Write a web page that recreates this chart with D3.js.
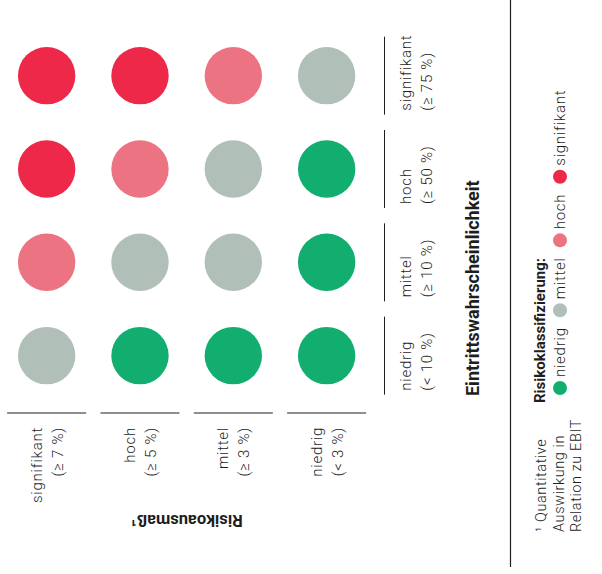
<!DOCTYPE html>
<html><head><meta charset="utf-8">
<script src="https://cdn.jsdelivr.net/npm/d3@7"></script>
<style>
html,body{margin:0;padding:0;background:#fff;}
svg{display:block;font-family:Roboto,"Noto Sans",sans-serif;}
</style></head>
<body>
<svg id="chart" width="602" height="574"></svg>
<script>
// Data
const ausmass = ["signifikant", "hoch", "mittel", "niedrig"];
const ausmassRange = ["(≥ 7 %)", "(≥ 5 %)", "(≥ 3 %)", "(< 3 %)"];
const wahrsch = ["signifikant", "hoch", "mittel", "niedrig"];
const wahrschRange = ["(≥ 75 %)", "(≥ 50 %)", "(≥ 10 %)", "(< 10 %)"];
const klassen = ["niedrig", "mittel", "hoch", "signifikant"];
const klassenColors = ["#11ae70", "#b0c0b8", "#ec7482", "#ee2849"];
// rows: Eintrittswahrscheinlichkeit (wahrsch), cols: Risikoausmaß (ausmass)
const matrix = [
  ["signifikant", "signifikant", "hoch", "mittel"],
  ["signifikant", "hoch", "mittel", "niedrig"],
  ["hoch", "mittel", "mittel", "niedrig"],
  ["mittel", "niedrig", "niedrig", "niedrig"]
];

const svg = d3.select("#chart");
const ink = "#1e1e1e";
const x = d3.scaleBand().domain(ausmass).range([0, 373.3]);
const y = d3.scaleBand().domain(wahrsch).range([29, 402.3]);
const color = d3.scaleOrdinal().domain(klassen).range(klassenColors);
const r = 28.7;

const cells = [];
matrix.forEach((row, i) => row.forEach((k, j) => cells.push({w: wahrsch[i], a: ausmass[j], k})));

svg.append("g").selectAll("circle").data(cells).join("circle")
  .attr("cx", d => x(d.a) + x.bandwidth() / 2)
  .attr("cy", d => y(d.w) + y.bandwidth() / 2)
  .attr("r", r)
  .attr("fill", d => color(d.k));

const lab = (sel) => sel.attr("font-size", 15).attr("font-weight", 300)
  .attr("letter-spacing", 0.75).attr("fill", ink);

// bottom axis (Risikoausmaß)
const bx = ausmass.map((a, i) => ({a, rng: ausmassRange[i], c: x(a) + x.bandwidth() / 2}));
const bottom = svg.append("g");
bottom.selectAll("line").data(bx).join("line")
  .attr("x1", d => d.c - 39.5).attr("x2", d => d.c + 39.5)
  .attr("y1", 413).attr("y2", 413)
  .attr("stroke", ink).attr("stroke-width", 1);
const bl = bottom.selectAll("g.lab").data(bx).join("g").attr("class", "lab");
bl.append("text")
  .attr("transform", d => `translate(${d.c - 5},427) rotate(-90)`)
  .attr("text-anchor", "end").call(lab).text(d => d.a);
bl.append("text")
  .attr("transform", d => `translate(${d.c + 16},427) rotate(-90)`)
  .attr("text-anchor", "end").call(lab).text(d => d.rng);

svg.append("text")
  .attr("transform", `translate(${x.range()[1] / 2},515) rotate(180)`)
  .attr("text-anchor", "middle").attr("font-size", 16.5).attr("font-weight", 700)
  .attr("fill", ink).text("Risikoausmaß¹");

// right axis (Eintrittswahrscheinlichkeit)
const ry = wahrsch.map((w, i) => ({w, rng: wahrschRange[i], c: y(w) + y.bandwidth() / 2}));
const right = svg.append("g");
right.selectAll("line").data(ry).join("line")
  .attr("x1", 384.5).attr("x2", 384.5)
  .attr("y1", d => d.c - 39).attr("y2", d => d.c + 39)
  .attr("stroke", ink).attr("stroke-width", 1);
const rl = right.selectAll("g.lab").data(ry).join("g").attr("class", "lab");
rl.append("text")
  .attr("transform", d => `translate(411,${d.c + 35}) rotate(-90)`)
  .attr("text-anchor", "start").call(lab).text(d => d.w);
rl.append("text")
  .attr("transform", d => `translate(432,${d.c + 35}) rotate(-90)`)
  .attr("text-anchor", "start").call(lab).text(d => d.rng);

svg.append("text")
  .attr("transform", `translate(479,396) rotate(-90)`)
  .attr("text-anchor", "start").attr("font-size", 18).attr("font-weight", 700)
  .attr("fill", ink).text("Eintrittswahrscheinlichkeit");

// divider
svg.append("line").attr("x1", 510.5).attr("x2", 510.5).attr("y1", 0).attr("y2", 567)
  .attr("stroke", ink).attr("stroke-width", 1.2);

// legend
svg.append("text")
  .attr("transform", `translate(545,403) rotate(-90)`)
  .attr("text-anchor", "start").attr("font-size", 15).attr("font-weight", 700)
  .attr("fill", ink).text("Risikoklassifizierung:");
const lg = svg.append("g");
let cy = 388;
klassen.forEach((k, i) => {
  lg.append("circle").attr("cx", 560).attr("cy", cy).attr("r", 7).attr("fill", color(k));
  const t = lg.append("text")
    .attr("transform", `translate(564.5,${cy - 11}) rotate(-90)`)
    .attr("text-anchor", "start").call(lab).text(k);
  const len = t.node().getComputedTextLength();
  cy = cy - 11 - len - 10 - 7;
});

// footnote
const foot = ["¹ Quantitative", "Auswirkung in", "Relation zu EBIT"];
svg.append("g").selectAll("text").data(foot).join("text")
  .attr("transform", (d, i) => `translate(${546 + i * 17.5},532) rotate(-90)`)
  .attr("text-anchor", "start").attr("font-size", 14.5).attr("font-weight", 300)
  .attr("letter-spacing", 0.6).attr("fill", ink).text(d => d);
</script>
</body></html>
